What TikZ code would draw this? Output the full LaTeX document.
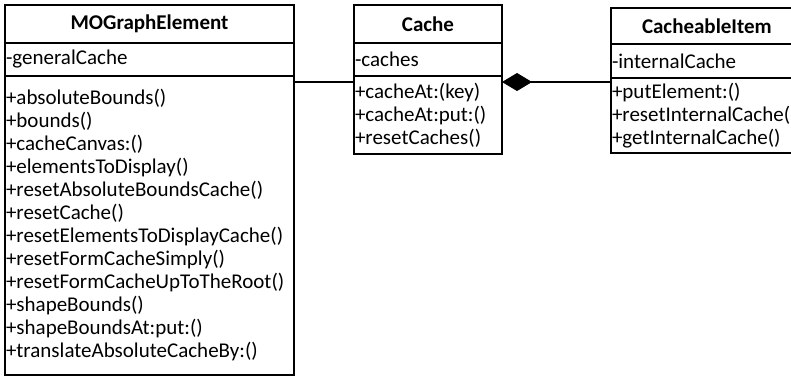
\documentclass[tikz,border=0pt]{standalone}
\usepackage{fontspec}
\setmainfont{Carlito}
\usetikzlibrary{arrows.meta}
\tikzset{
  comp/.style={draw, line width=1.3pt, rectangle, anchor=north west, outer sep=0pt, inner xsep=1pt, inner ysep=0pt,
    align=left, font=\fontsize{21}{23}\selectfont},
  hdr/.style={comp, align=center, font=\fontsize{21}{23}\selectfont\bfseries},
  conn/.style={line width=1.1pt}
}
\begin{document}
\begin{tikzpicture}[x=1pt,y=-1pt]
\clip (0,0) rectangle (791,378);
% MOGraphElement
\node[hdr, minimum width=289pt, minimum height=38pt, text width=287pt] (mo-h) at (5,5) {MOGraphElement};
\node[comp, minimum width=289pt, minimum height=33pt, text width=287pt] (mo-a) at (mo-h.south west) {-generalCache};
\node[comp, minimum width=289pt, minimum height=299pt, text width=287pt] (mo-m) at (mo-a.south west) {+absoluteBounds()\\+bounds()\\+cacheCanvas:()\\+elementsToDisplay()\\+resetAbsoluteBoundsCache()\\+resetCache()\\+resetElementsToDisplayCache()\\+resetFormCacheSimply()\\+resetFormCacheUpToTheRoot()\\+shapeBounds()\\+shapeBoundsAt:put:()\\+translateAbsoluteCacheBy:()};
% Cache
\node[hdr, minimum width=148pt, minimum height=38pt, text width=146pt] (ca-h) at (354,5) {Cache};
\node[comp, minimum width=148pt, minimum height=33pt, text width=146pt] (ca-a) at (ca-h.south west) {-caches};
\node[comp, minimum width=148pt, minimum height=78pt, text width=146pt] (ca-m) at (ca-a.south west) {+cacheAt:(key)\\+cacheAt:put:()\\+resetCaches()};
% CacheableItem
\node[hdr, minimum width=230pt, minimum height=36pt, text width=228pt, align=left] (ci-h) at (611,8) {\hspace*{30pt}CacheableItem};
\node[comp, minimum width=230pt, minimum height=34pt, text width=228pt] (ci-a) at (ci-h.south west) {-internalCache};
\node[comp, minimum width=230pt, minimum height=75pt, text width=228pt] (ci-m) at (ci-a.south west) {+putElement:()\\+resetInternalCache()\\+getInternalCache()};
% connectors
\draw[conn] ([yshift=-6pt]mo-m.north east) -- ([yshift=-6pt]ca-m.north west);
\draw[conn, {Diamond[length=30pt,width=18pt]}-] ([yshift=-6pt]ca-m.north east) -- ([yshift=-6pt]ca-m.north east -| ci-m.west);
\end{tikzpicture}
\end{document}
